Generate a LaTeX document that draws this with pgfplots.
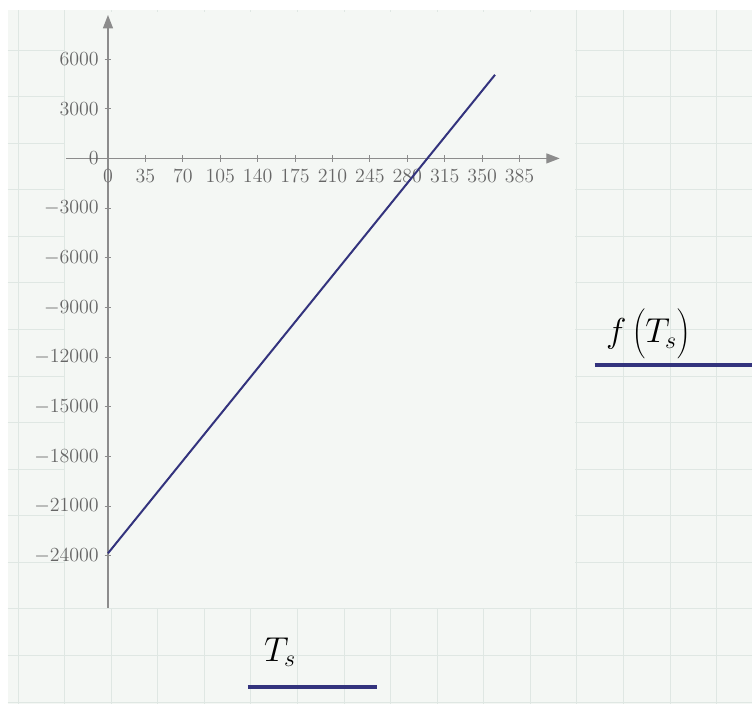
\documentclass[border=0pt]{standalone}
\usepackage{pgfplots}
\pgfplotsset{compat=1.18}
\usetikzlibrary{arrows.meta}
\definecolor{sheet}{HTML}{F4F7F4}
\definecolor{gridln}{HTML}{DFE7E3}
\definecolor{curve}{HTML}{33337D}
\definecolor{axisgray}{HTML}{8C8C8C}
\definecolor{labelgray}{HTML}{666666}

\begin{document}
\begin{tikzpicture}
% worksheet background, 1px = 0.6pt
\begin{scope}[x=0.6pt,y=-0.6pt]
  \fill[white] (0,0) rectangle (752,704);
  \fill[sheet] (8,10) rectangle (752,704);
  \foreach \gx in {18,64.6,...,745} \draw[gridln,line width=0.5pt] (\gx,10) -- (\gx,704);
  \foreach \gy in {50,96.6,...,704} \draw[gridln,line width=0.5pt] (8,\gy) -- (752,\gy);
  \fill[sheet] (65,12) rectangle (575,608);
\end{scope}
\path[use as bounding box] (0,0) rectangle (451.2pt,-422.4pt);

\begin{axis}[
  at={(39.6pt,-364.8pt)}, anchor=south west,
  scale only axis, width=296.4pt, height=355.8pt,
  axis lines=middle,
  xmin=-39.3, xmax=422.5, ymin=-27133, ymax=8662,
  xtick={0,35,...,385}, ytick={-24000,-21000,...,6000},
  scaled y ticks=false, scaled x ticks=false,
  hide obscured x ticks=false, hide obscured y ticks=false,
  axis line style={axisgray, line width=0.7pt},
  every inner x axis line/.append style={-{Triangle[length=8pt,width=6pt]}},
  every inner y axis line/.append style={-{Triangle[length=8pt,width=6pt]}},
  tick style={axisgray, line width=0.6pt},
  major tick length=4pt, tick align=center,
  tick label style={font=\fontsize{12}{14}\selectfont, text=labelgray},
  xticklabel style={yshift=-1pt},
  /pgf/number format/set thousands separator={},
]
\addplot[curve, line width=1.2pt] coordinates {(0,-23850) (362,5050)};
\end{axis}

\begin{scope}[x=0.6pt,y=-0.6pt]
  \node[anchor=base west, inner sep=0pt] at (264,662) {\huge $T_s$};
  \draw[curve, line width=2.4pt] (248,687) -- (377,687);
  \node[anchor=base west, inner sep=0pt] at (606,343)
    {\huge $f\left(\vrule height 20pt depth 7pt width 0pt T_s\right)$};
  \draw[curve, line width=2.4pt] (595,365) -- (752,365);
\end{scope}
\end{tikzpicture}
\end{document}
